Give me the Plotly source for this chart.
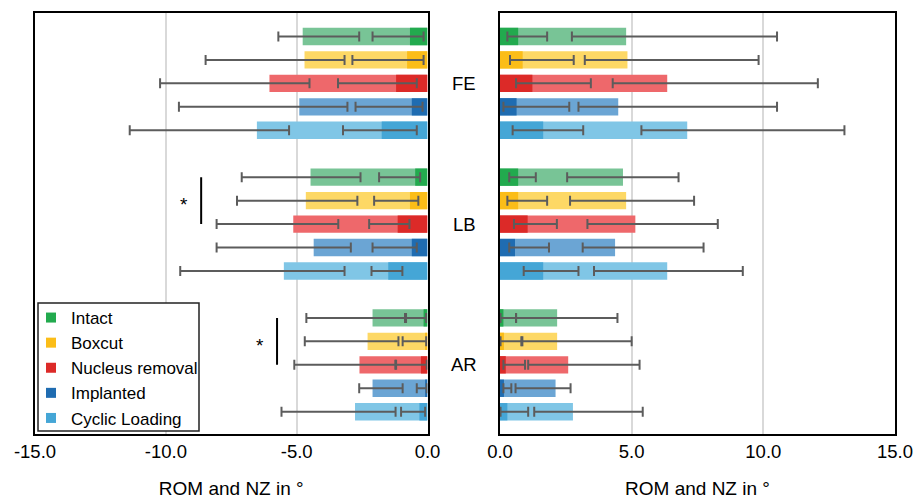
import plotly.graph_objects as go

# ---------------- data ----------------
GROUPS = ["FE", "LB", "AR"]
CONDITIONS = ["Intact", "Boxcut", "Nucleus removal", "Implanted", "Cyclic Loading"]
DARK = ["#22AA4E", "#FBBD18", "#DC2A28", "#1F6CB1", "#45A6D6"]
LIGHT = ["#78C496", "#FDD865", "#EE686B", "#6BA5D4", "#80C6E6"]

# left panel (negative direction); rows = conditions, cols = FE, LB, AR
ROM_NEG = [[-4.77, -4.47, -2.10], [-4.70, -4.65, -2.29], [-6.04, -5.13, -2.60],
           [-4.90, -4.35, -2.10], [-6.52, -5.49, -2.77]]
ROM_NEG_LO = [[-5.70, -7.10, -4.63], [-8.48, -7.28, -4.69], [-10.22, -8.06, -5.09],
              [-9.50, -8.06, -2.61], [-11.38, -9.45, -5.58]]
ROM_NEG_HI = [[-2.61, -2.56, -0.86], [-3.17, -2.68, -1.11], [-4.51, -3.41, -1.23],
              [-3.06, -2.93, -0.95], [-5.29, -3.17, -1.22]]
NZ_NEG = [[-0.67, -0.47, -0.15], [-0.78, -0.67, -0.09], [-1.20, -1.14, -0.25],
          [-0.60, -0.60, -0.09], [-1.75, -1.50, -0.31]]
NZ_NEG_LO = [[-2.10, -1.85, -0.82], [-2.87, -2.04, -0.95], [-3.42, -2.23, -1.20],
             [-2.75, -2.10, -0.41], [-3.23, -2.14, -1.01]]
NZ_NEG_HI = [[-0.15, -0.28, -0.05], [-0.15, -0.35, -0.05], [-0.41, -0.69, -0.03],
             [-0.19, -0.41, -0.03], [-0.41, -0.96, -0.09]]

# right panel (positive direction)
ROM_POS = [[4.79, 4.67, 2.17], [4.84, 4.79, 2.17], [6.35, 5.14, 2.59],
           [4.49, 4.37, 2.11], [7.11, 6.35, 2.77]]
ROM_POS_LO = [[2.73, 2.55, 0.61], [3.22, 2.66, 0.85], [4.28, 3.32, 1.07],
              [2.98, 3.14, 0.59], [5.37, 3.57, 1.30]]
ROM_POS_HI = [[10.52, 6.78, 4.46], [9.82, 7.37, 5.00], [12.07, 8.27, 5.30],
              [10.52, 7.73, 2.68], [13.08, 9.22, 5.42]]
NZ_POS = [[0.69, 0.69, 0.13], [0.86, 0.69, 0.15], [1.23, 1.05, 0.22],
          [0.63, 0.57, 0.15], [1.64, 1.64, 0.28]]
NZ_POS_LO = [[0.28, 0.35, 0.02], [0.38, 0.28, 0.02], [0.61, 0.53, 0.13],
             [0.13, 0.35, 0.13], [0.48, 0.90, 0.02]]
NZ_POS_HI = [[1.79, 1.36, 0.61], [2.80, 1.79, 0.81], [3.45, 2.16, 0.95],
             [2.63, 1.86, 0.43], [3.16, 2.98, 1.07]]

LEFT_TICKS = [-15, -10, -5, 0]
LEFT_TICKTEXT = ["-15.0", "-10.0", "-5.0", "0.0"]
RIGHT_TICKS = [0, 5, 10, 15]
RIGHT_TICKTEXT = ["0.0", "5.0", "10.0", "15.0"]
AXIS_TITLE = "ROM and NZ in °"

# significance markers: (group index, first condition, last condition, line x, star x)
SIG = [(1, 0, 2, -8.65, -9.32), (2, 0, 2, -5.75, -6.40)]

# ---------------- figure ----------------
FONT = "Liberation Sans, Arial, sans-serif"
SLOT = len(CONDITIONS) + 1
ERRC = "#5c5c5c"

fig = go.Figure()


def ypos(ci):
    return [g * SLOT + ci for g in range(len(GROUPS))]


def add_bar(vals, lo, hi, color, yv, xa, ya):
    plus = [max(0.0, h - v) for v, h in zip(vals, hi)]
    minus = [max(0.0, v - l) for v, l in zip(vals, lo)]
    fig.add_trace(go.Bar(
        x=vals, y=yv, orientation="h", width=0.74,
        marker=dict(color=color, line=dict(width=0)),
        error_x=dict(type="data", symmetric=False, array=plus, arrayminus=minus,
                     color=ERRC, thickness=2, width=5),
        xaxis=xa, yaxis=ya, showlegend=False, hoverinfo="x+y",
    ))


for ci in range(len(CONDITIONS)):
    yv = ypos(ci)
    add_bar(ROM_NEG[ci], ROM_NEG_LO[ci], ROM_NEG_HI[ci], LIGHT[ci], yv, "x", "y")
    add_bar(NZ_NEG[ci], NZ_NEG_LO[ci], NZ_NEG_HI[ci], DARK[ci], yv, "x", "y")
    add_bar(ROM_POS[ci], ROM_POS_LO[ci], ROM_POS_HI[ci], LIGHT[ci], yv, "x2", "y2")
    add_bar(NZ_POS[ci], NZ_POS_LO[ci], NZ_POS_HI[ci], DARK[ci], yv, "x2", "y2")

# legend entries
for ci, name in enumerate(CONDITIONS):
    fig.add_trace(go.Scatter(
        x=[None], y=[None], mode="markers", name=name,
        marker=dict(symbol="square", size=10, color=DARK[ci]),
        xaxis="x", yaxis="y", showlegend=True,
    ))

L, R, T, B = 35, 20, 13, 65
W, H = 915, 499
pw = W - L - R
ph = H - T - B
left_end = (427.5 - L) / pw
right_start = (500 - L) / pw


def px_x(px):
    return (px - L) / pw


def px_y(py):
    return (H - B - py) / ph


axis_common = dict(showline=True, mirror=True, linecolor="black", linewidth=2,
                   showgrid=True, gridcolor="#d9d9d9", gridwidth=1.5,
                   zeroline=False, ticks="", automargin=False,
                   tickfont=dict(size=18.5, color="black", family=FONT),
                   title=dict(text=AXIS_TITLE, standoff=21,
                              font=dict(size=19, color="black", family=FONT)))

yaxis_common = dict(showline=True, mirror=True, linecolor="black", linewidth=2,
                    showgrid=False, zeroline=False, showticklabels=False,
                    ticks="", range=[16.95, -1.0], automargin=False)

annotations = []
for g, name in enumerate(GROUPS):
    annotations.append(dict(
        text=name, x=px_x(464), xref="paper", y=g * SLOT + 2, yref="y",
        showarrow=False, xanchor="center", yanchor="middle",
        font=dict(size=18.5, color="black", family=FONT)))

shapes = []
for g, c0, c1, xl, xs in SIG:
    shapes.append(dict(type="line", xref="x", yref="y", x0=xl, x1=xl,
                       y0=g * SLOT + c0, y1=g * SLOT + c1,
                       line=dict(color="black", width=2)))
    annotations.append(dict(
        text="*", x=xs, xref="x", y=g * SLOT + (c0 + c1) / 2, yref="y",
        showarrow=False, xanchor="center", yanchor="middle", yshift=-4,
        font=dict(size=19, color="black", family=FONT)))

# legend frame
shapes.append(dict(type="rect", xref="paper", yref="paper",
                   x0=px_x(38), x1=px_x(199), y0=px_y(431), y1=px_y(303),
                   fillcolor="white", line=dict(color="#222222", width=1.5),
                   layer="above"))

fig.update_layout(
    width=W, height=H,
    margin=dict(l=L, r=R, t=T, b=B, pad=0),
    paper_bgcolor="white", plot_bgcolor="white",
    barmode="overlay",
    font=dict(family=FONT, color="black"),
    xaxis=dict(domain=[0, left_end], range=[-15, 0],
               tickvals=LEFT_TICKS, ticktext=LEFT_TICKTEXT, **axis_common),
    xaxis2=dict(domain=[right_start, 1], range=[0, 15], anchor="y2",
                tickvals=RIGHT_TICKS, ticktext=RIGHT_TICKTEXT, **axis_common),
    yaxis=dict(domain=[0, 1], anchor="x", **yaxis_common),
    yaxis2=dict(domain=[0, 1], anchor="x2", **yaxis_common),
    showlegend=True,
    legend=dict(x=px_x(31), y=px_y(300), xanchor="left",
                yanchor="top", bgcolor="rgba(0,0,0,0)", borderwidth=0,
                itemwidth=30, tracegroupgap=0,
                font=dict(size=17, color="black", family=FONT)),
    annotations=annotations,
    shapes=shapes,
)

fig.write_html("out.html", config={"displayModeBar": False},
               post_script="document.body.style.margin='0';")
